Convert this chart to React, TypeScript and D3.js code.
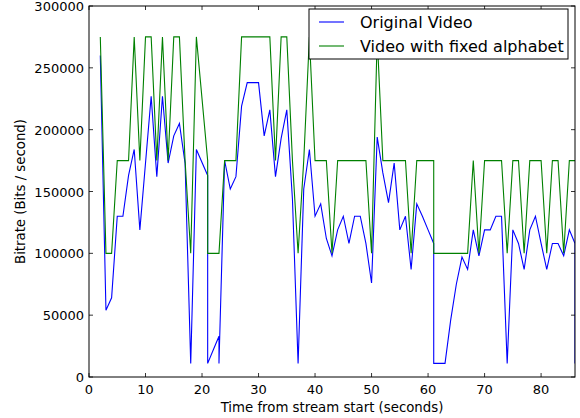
import React, { useEffect, useRef } from 'react';
import * as d3 from 'd3';

// sample times (s); some timestamps repeat where the stream jumped
const times = [
  2, 3, 4, 5, 6, 7, 8, 9, 10, 11, 12, 13, 14, 15, 16, 17, 18, 19, 21, 21,
  22, 23, 23, 24, 25, 26, 27, 28, 29, 30, 31, 32, 33, 34, 35, 36, 37, 38, 39, 40,
  41, 42, 43, 44, 45, 46, 47, 48, 49, 50, 51, 52, 53, 54, 55, 56, 57, 58, 59, 60,
  61, 61, 62, 63, 64, 65, 66, 67, 68, 69, 70, 71, 72, 73, 74, 75, 76, 77, 78, 79,
  80, 81, 82, 83, 84, 85, 86, 86,
];

const original = [
  260000, 54000, 64000, 130000, 130000, 163000, 184000, 119000, 173000, 227000,
  162000, 227000, 173000, 195000, 205000, 173000, 11000, 184000, 163000, 11000,
  22000, 33000, 11000, 175000, 152000, 162000, 219000, 238000, 238000, 238000,
  195000, 216000, 162000, 193000, 216000, 144000, 11000, 152000, 184000, 130000,
  140000, 112000, 98000, 119000, 130000, 108000, 130000, 130000, 108000, 76000,
  194000, 165000, 141000, 173000, 119000, 130000, 87000, 140000, 130000, 119000,
  108000, 11000, 11000, 11000, 46000, 75000, 97000, 87000, 119000, 98000,
  119000, 119000, 130000, 130000, 11000, 119000, 108000, 87000, 119000, 130000,
  108000, 87000, 108000, 108000, 98000, 119000, 108000, 11000,
];

const fixedAlphabet = [
  275000, 100000, 100000, 175000, 175000, 175000, 275000, 175000, 275000, 275000,
  175000, 275000, 175000, 275000, 275000, 175000, 100000, 275000, 175000, 100000,
  100000, 100000, 100000, 175000, 175000, 175000, 275000, 275000, 275000, 275000,
  275000, 275000, 175000, 275000, 275000, 175000, 100000, 175000, 275000, 175000,
  175000, 175000, 100000, 175000, 175000, 175000, 175000, 175000, 175000, 100000,
  275000, 175000, 175000, 175000, 175000, 175000, 100000, 175000, 175000, 175000,
  175000, 100000, 100000, 100000, 100000, 100000, 100000, 100000, 175000, 100000,
  175000, 175000, 175000, 175000, 100000, 175000, 175000, 100000, 175000, 175000,
  175000, 100000, 175000, 175000, 100000, 175000, 175000, 175000,
];

const xTicks = [0, 10, 20, 30, 40, 50, 60, 70, 80];
const yTicks = [0, 50000, 100000, 150000, 200000, 250000, 300000];

const seriesNames = ['Original Video', 'Video with fixed alphabet'];
const seriesColors = ['#0000ff', '#008000'];

const W = 580;
const H = 418;
const font = '"DejaVu Sans", sans-serif';

export default function App() {
  const svgRef = useRef<SVGSVGElement>(null);

  useEffect(() => {
    if (!svgRef.current) return;
    const margin = { top: 6, right: 5, bottom: 41, left: 89 };
    const width = W - margin.left - margin.right;
    const height = H - margin.top - margin.bottom;

    const root = d3.select(svgRef.current);
    root.selectAll('*').remove();
    root.append('rect').attr('width', W).attr('height', H).attr('fill', '#fff');

    const svg = root.append('g').attr('transform', `translate(${margin.left},${margin.top})`);

    const x = d3.scaleLinear().domain([0, 86]).range([0, width]);
    const y = d3.scaleLinear().domain([0, 300000]).range([height, 0]);

    svg.append('defs').append('clipPath').attr('id', 'plotclip')
      .append('rect').attr('width', width).attr('height', height);

    // lines
    const series = [original, fixedAlphabet];
    series.forEach((vals, i) => {
      const line = d3.line<number>()
        .x((_, j) => x(times[j]))
        .y(d => y(d));
      svg.append('path')
        .datum(vals)
        .attr('clip-path', 'url(#plotclip)')
        .attr('fill', 'none')
        .attr('stroke', seriesColors[i])
        .attr('stroke-width', 1.1)
        .attr('d', line);
    });

    // ticks inside on all four sides (classic style)
    const tl = 4;
    xTicks.forEach(t => {
      svg.append('line').attr('x1', x(t)).attr('x2', x(t)).attr('y1', height).attr('y2', height - tl)
        .attr('stroke', '#000').attr('stroke-width', 0.8);
      svg.append('line').attr('x1', x(t)).attr('x2', x(t)).attr('y1', 0).attr('y2', tl)
        .attr('stroke', '#000').attr('stroke-width', 0.8);
      svg.append('text').attr('x', x(t)).attr('y', height + 17)
        .attr('text-anchor', 'middle').attr('font-family', font).attr('font-size', 13)
        .text(String(t));
    });
    yTicks.forEach(t => {
      svg.append('line').attr('x1', 0).attr('x2', tl).attr('y1', y(t)).attr('y2', y(t))
        .attr('stroke', '#000').attr('stroke-width', 0.8);
      svg.append('line').attr('x1', width).attr('x2', width - tl).attr('y1', y(t)).attr('y2', y(t))
        .attr('stroke', '#000').attr('stroke-width', 0.8);
      svg.append('text').attr('x', -5).attr('y', y(t) + 5)
        .attr('text-anchor', 'end').attr('font-family', font).attr('font-size', 13)
        .text(String(t));
    });

    // frame
    svg.append('rect').attr('width', width).attr('height', height)
      .attr('fill', 'none').attr('stroke', '#000').attr('stroke-width', 1);

    // axis labels
    svg.append('text').attr('x', width / 2).attr('y', height + 35)
      .attr('text-anchor', 'middle').attr('font-family', font).attr('font-size', 13.3)
      .text('Time from stream start (seconds)');
    root.append('text')
      .attr('transform', `translate(25,${margin.top + height / 2}) rotate(-90)`)
      .attr('text-anchor', 'middle').attr('font-family', font).attr('font-size', 13.3)
      .text('Bitrate (Bits / second)');

    // legend
    const lg = root.append('g').attr('transform', 'translate(309,9)');
    lg.append('rect').attr('width', 259).attr('height', 50)
      .attr('fill', '#fff').attr('stroke', '#000').attr('stroke-width', 1);
    seriesNames.forEach((name, i) => {
      const cy = 13 + i * 24;
      lg.append('line').attr('x1', 10).attr('x2', 35).attr('y1', cy).attr('y2', cy)
        .attr('stroke', seriesColors[i]).attr('stroke-width', 1.1);
      lg.append('text').attr('x', 51).attr('y', cy + 5.5)
        .attr('font-family', font).attr('font-size', 16)
        .text(name);
    });
  }, []);

  return (
    <svg ref={svgRef} width={W} height={H}
      style={{ position: 'absolute', left: 0, top: 0, display: 'block' }} />
  );
}
